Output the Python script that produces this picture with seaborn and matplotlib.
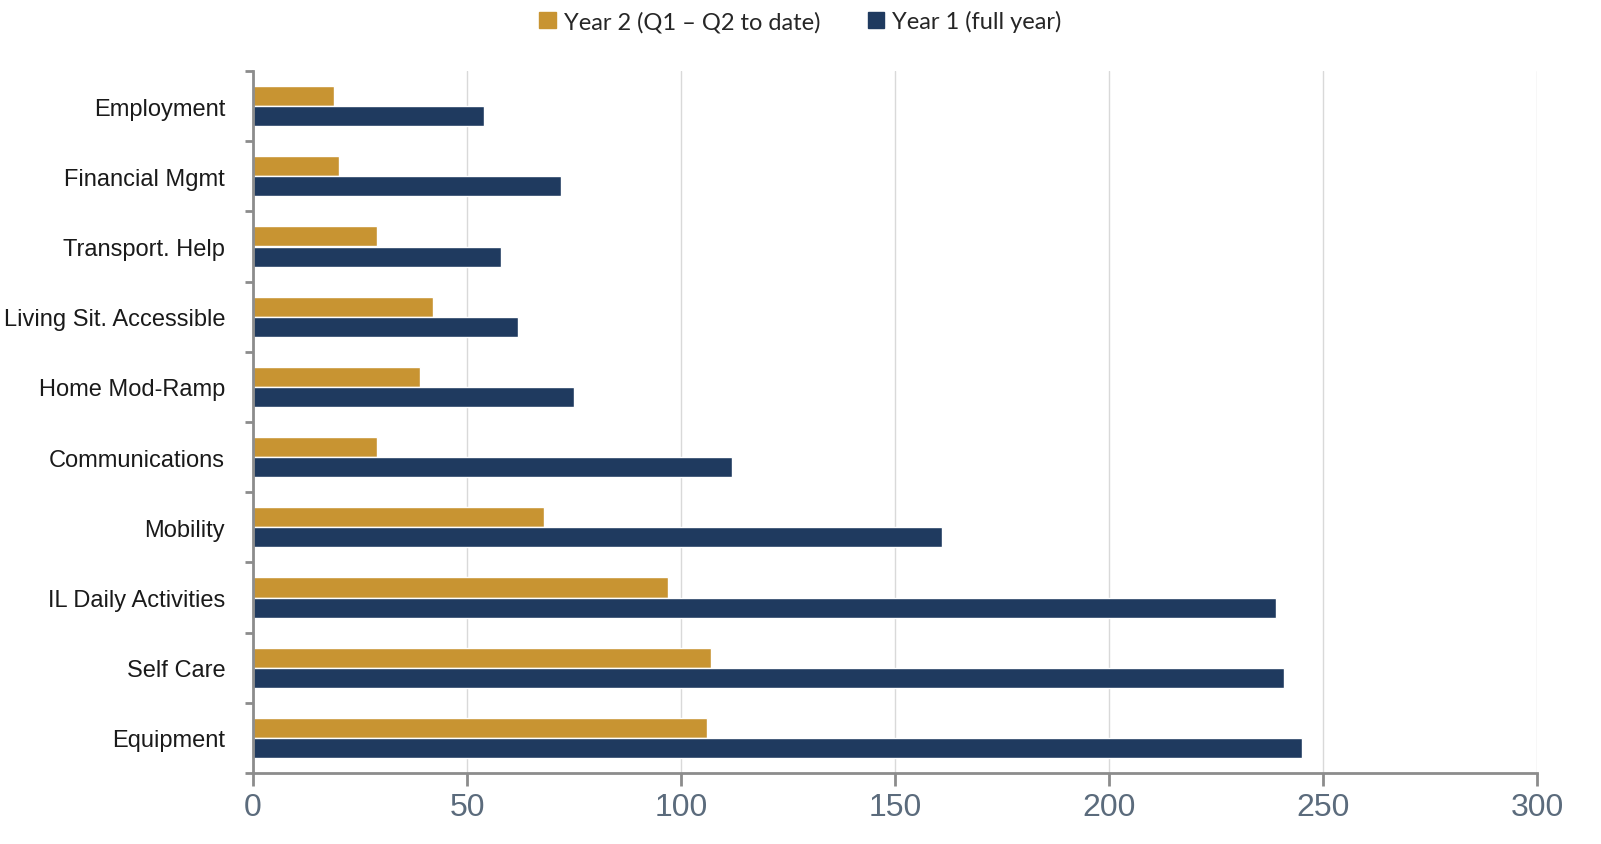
import pandas as pd
import matplotlib.pyplot as plt
import seaborn as sns
import numpy as np

# categories top to bottom
categories = ['Employment', 'Financial Mgmt', 'Transport. Help', 'Living Sit. Accessible',
              'Home Mod-Ramp', 'Communications', 'Mobility', 'IL Daily Activities',
              'Self Care', 'Equipment']
year2 = [19, 20, 29, 42, 39, 29, 68, 97, 107, 106]
year1 = [54, 72, 58, 62, 75, 112, 161, 239, 241, 245]
series_names = ['Year 2 (Q1 \u2013 Q2 to date)', 'Year 1 (full year)']
x_ticks = [0, 50, 100, 150, 200, 250, 300]

df = pd.DataFrame({
    'category': categories * 2,
    'value': year2 + year1,
    'series': [series_names[0]] * len(categories) + [series_names[1]] * len(categories),
})

sns.set_style('white')
plt.rcParams['font.family'] = ['Liberation Sans', 'DejaVu Sans']

fig, ax = plt.subplots(figsize=(16.01, 8.45), dpi=100)
fig.subplots_adjust(left=253/1601, right=1537/1601, top=1-72/845, bottom=1-774/845)

palette = {series_names[0]: '#C89432', series_names[1]: '#1F3A5F'}
sns.barplot(data=df, x='value', y='category', hue='series', order=categories,
            hue_order=series_names, palette=palette, width=0.57, saturation=1,
            ax=ax, legend=False)

ax.set_xlim(0, 300)
ax.set_ylim(len(categories) - 0.5, -0.5)
ax.set_xticks(x_ticks)
ax.set_xlabel('')
ax.set_ylabel('')

# vertical gridlines
ax.set_axisbelow(True)
ax.grid(axis='x', color='#d9d9d9', lw=1)
ax.grid(axis='y', visible=False)

for side in ['top', 'right']:
    ax.spines[side].set_visible(False)
for side in ['left', 'bottom']:
    ax.spines[side].set_color('#8c8c8c')
    ax.spines[side].set_linewidth(2)

# y: category labels without tick marks, ticks at group boundaries
ax.set_yticks(np.arange(-0.5, len(categories), 1.0), minor=True)
ax.tick_params(axis='y', which='major', left=True, length=0, pad=20, labelsize=17,
               labelcolor='#1a1a1a')
ax.tick_params(axis='y', which='minor', left=True, length=6, width=2, color='#8c8c8c',
               direction='out')
ax.tick_params(axis='x', bottom=True, length=9, width=2, color='#8c8c8c', direction='out',
               labelsize=23, labelcolor='#5b6b7c', pad=5)

# legend on top
handles = [plt.Rectangle((0, 0), 1, 1, color=palette[n]) for n in series_names]
fig.legend(handles, series_names, loc='upper center', bbox_to_anchor=(0.5, 1.012), ncol=2,
           frameon=False, handlelength=0.7, handleheight=0.7, handletextpad=0.35,
           columnspacing=2.0, prop={'family': 'Lato', 'size': 17})

plt.savefig('out.png', dpi=100)
